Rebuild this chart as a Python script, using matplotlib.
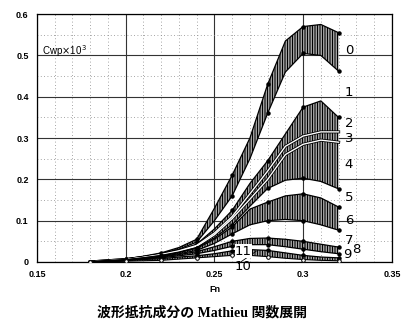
import numpy as np
import matplotlib
matplotlib.use("Agg")
import matplotlib.pyplot as plt
from matplotlib.ticker import MultipleLocator

plt.rcParams["hatch.linewidth"] = 0.75
plt.rcParams["font.family"] = ["Liberation Sans", "DejaVu Sans"]

# Froude numbers (readings every 0.01, markers every 0.02)
fn = np.array([0.18, 0.19, 0.20, 0.21, 0.22, 0.23, 0.24, 0.25,
               0.26, 0.27, 0.28, 0.29, 0.30, 0.31, 0.32])

# band boundaries, Cwp x 10^3 (top to bottom)
b0 = [0, 0.003, 0.007, 0.014, 0.022, 0.035, 0.055, 0.13, 0.21, 0.30, 0.43, 0.535, 0.57, 0.575, 0.555]
b1 = [0, 0.003, 0.0065, 0.013, 0.020, 0.031, 0.048, 0.10, 0.16, 0.25, 0.36, 0.46, 0.505, 0.50, 0.462]
b2 = [0, 0.003, 0.006, 0.012, 0.019, 0.029, 0.043, 0.08, 0.125, 0.19, 0.245, 0.31, 0.375, 0.39, 0.35]
b3 = [0, 0.003, 0.006, 0.011, 0.018, 0.027, 0.040, 0.07, 0.11, 0.165, 0.22, 0.28, 0.305, 0.315, 0.315]
b4 = [0, 0.003, 0.0055, 0.011, 0.017, 0.026, 0.038, 0.066, 0.105, 0.152, 0.20, 0.26, 0.285, 0.295, 0.29]
b5 = [0, 0.003, 0.0055, 0.010, 0.016, 0.024, 0.035, 0.058, 0.09, 0.135, 0.178, 0.198, 0.203, 0.195, 0.177]
b6 = [0, 0.003, 0.005, 0.010, 0.015, 0.023, 0.033, 0.055, 0.085, 0.128, 0.145, 0.16, 0.165, 0.155, 0.133]
b7 = [0, 0.003, 0.005, 0.009, 0.013, 0.020, 0.028, 0.045, 0.068, 0.09, 0.10, 0.103, 0.10, 0.09, 0.077]
b8 = [0, 0.002, 0.005, 0.008, 0.012, 0.018, 0.025, 0.037, 0.05, 0.057, 0.058, 0.055, 0.05, 0.043, 0.036]
b9 = [0, 0.002, 0.004, 0.007, 0.010, 0.015, 0.020, 0.028, 0.038, 0.042, 0.042, 0.037, 0.031, 0.025, 0.02]
b10 = [0, 0.002, 0.004, 0.006, 0.008, 0.012, 0.015, 0.02, 0.027, 0.03, 0.028, 0.022, 0.016, 0.012, 0.01]
b11 = [0, 0.001, 0.002, 0.003, 0.004, 0.007, 0.010, 0.013, 0.016, 0.016, 0.013, 0.009, 0.006, 0.004, 0.003]

bounds = [b0, b1, b2, b3, b4, b5, b6, b7, b8, b9, b10, b11]
hatched = [(b0, b1), (b2, b5), (b6, b7), (b8, b9), (b10, b11)]

band_labels = ["0", "1", "2", "3", "4", "5", "6", "7", "8", "9", "10", "11"]
label_pos = [(0.3235, 0.513), (0.3235, 0.41), (0.3235, 0.336), (0.3235, 0.300),
             (0.3235, 0.235), (0.3235, 0.155), (0.3235, 0.101), (0.3235, 0.053),
             (0.3275, 0.031), (0.3225, 0.018), (0.2615, -0.012), (0.2615, 0.026)]

fig = plt.figure(figsize=(4.2, 3.34), dpi=100)
ax = fig.add_axes([0.088, 0.2156, 0.845, 0.742])

for top, bot in hatched:
    ax.fill_between(fn, top, bot, facecolor="white", edgecolor="black",
                    hatch="|" * 10, linewidth=0, zorder=2)

for i, b in enumerate(bounds):
    if i in (3, 4):
        ax.plot(fn, b, color="black", lw=2.2, zorder=3)
        ax.plot(fn, b, color="white", lw=1.0, zorder=4)
    elif i == 11:
        ax.plot(fn, b, color="black", lw=0.8, marker="o", markevery=2,
                ms=2.6, mfc="white", mec="black", mew=0.7, zorder=4)
    else:
        ax.plot(fn, b, color="black", lw=0.9, marker="o", markevery=2,
                ms=2.2, zorder=4)

for lab, (x, y) in zip(band_labels, label_pos):
    t = ax.text(x, y, lab, fontsize=9.5, ha="left", va="center", color="black",
                family=["DejaVu Sans"], zorder=6, clip_on=False)
    if lab == "11":
        t.set_bbox(dict(facecolor="white", edgecolor="none", pad=0.2))
# leader line for curve 10
ax.plot([0.2635, 0.2735], [-0.004, 0.026], color="black", lw=0.6, zorder=5, clip_on=False)

ax.text(0.153, 0.511, r"Cwp$\times$10$^{\,3}$", fontsize=7, ha="left", va="center", zorder=5)

ax.set_xlim(0.15, 0.35)
ax.set_ylim(0, 0.6)
ax.xaxis.set_major_locator(MultipleLocator(0.05))
ax.xaxis.set_minor_locator(MultipleLocator(0.01))
ax.yaxis.set_major_locator(MultipleLocator(0.1))
ax.yaxis.set_minor_locator(MultipleLocator(0.05))
ax.grid(which="major", color="#333333", lw=0.8)
ax.grid(which="minor", color="#888888", lw=0.6, ls=(0, (1, 3)))
ax.set_axisbelow(True)
ax.set_xticks([0.15, 0.2, 0.25, 0.3, 0.35])
ax.set_xticklabels(["0.15", "0.2", "0.25", "0.3", "0.35"])
ax.set_yticks([0, 0.1, 0.2, 0.3, 0.4, 0.5, 0.6])
ax.set_yticklabels(["0", "0.1", "0.2", "0.3", "0.4", "0.5", "0.6"])
ax.tick_params(which="both", length=0, labelsize=6.5, pad=6)
for lab in ax.get_xticklabels() + ax.get_yticklabels():
    lab.set_fontweight("bold")
for s in ax.spines.values():
    s.set_linewidth(0.9)

ax.set_xlabel("Fn", fontsize=6.5, fontweight="bold", labelpad=4)

fig.text(0.48, 0.063, "波形抵抗成分の Mathieu 関数展開", fontsize=10, ha="center",
         va="center", family=["Liberation Serif", "Noto Sans CJK JP"], fontweight="bold")

fig.savefig("out.png", dpi=100)
